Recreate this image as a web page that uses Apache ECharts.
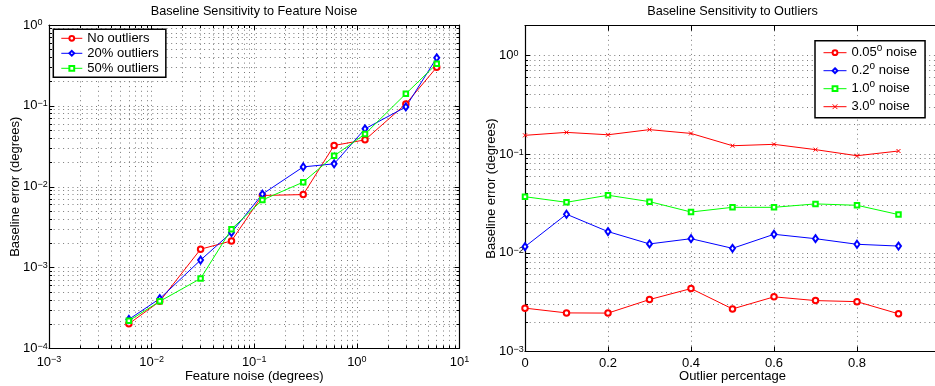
<!DOCTYPE html>
<html><head><meta charset="utf-8">
<script src="https://cdn.jsdelivr.net/npm/echarts@6/dist/echarts.min.js"></script>
<style>html,body{margin:0;padding:0;background:#fff}#c{width:935px;height:386px}</style>
</head><body><div id="c"></div>
<script>
// ---- Left plot data ----
const noiseX = [0.006, 0.012, 0.03, 0.06, 0.12, 0.3, 0.6, 1.2, 3, 6];
const noOutliers = [2.02e-4, 3.83e-4, 1.69e-3, 2.14e-3, 7.8e-3, 8.0e-3, 0.0324, 0.038, 0.1056, 0.30];
const outliers20 = [2.29e-4, 4.13e-4, 1.24e-3, 2.72e-3, 8.1e-3, 0.0176, 0.0192, 0.052, 0.097, 0.393];
const outliers50 = [2.2e-4, 3.83e-4, 7.33e-4, 2.99e-3, 6.86e-3, 0.0114, 0.0241, 0.0448, 0.141, 0.331];
const leftNames = ['No outliers', '20% outliers', '50% outliers'];

// ---- Right plot data ----
const outlierPct = [0, 0.1, 0.2, 0.3, 0.4, 0.5, 0.6, 0.7, 0.8, 0.9];
const noise005 = [2.75e-3, 2.46e-3, 2.45e-3, 3.36e-3, 4.34e-3, 2.7e-3, 3.58e-3, 3.28e-3, 3.2e-3, 2.41e-3];
const noise02 = [0.01155, 0.0246, 0.0164, 0.0123, 0.0139, 0.0111, 0.0154, 0.0139, 0.0122, 0.0117];
const noise10 = [0.037, 0.0325, 0.0383, 0.033, 0.0259, 0.0289, 0.0289, 0.0313, 0.0303, 0.0244];
const noise30 = [0.155, 0.166, 0.157, 0.177, 0.162, 0.1216, 0.1256, 0.111, 0.0963, 0.1075];
const rightNames = ['0.05° noise', '0.2° noise', '1.0° noise', '3.0° noise'];

const titles = ['Baseline Sensitivity to Feature Noise', 'Baseline Sensitivity to Outliers'];

const FONT = '"Liberation Sans", Arial, Helvetica, sans-serif';
const RED = '#ff0000', BLUE = '#0000ff', GREEN = '#00ff00';

function pow10Label(v) {
  const l = Math.log10(v), e = Math.round(l);
  if (Math.abs(l - e) > 1e-6) return '';
  return '{b|10}{sup|' + (e < 0 ? '\u2212' + (-e) : String(e)) + '}';
}
const supRich = {
  b: { fontSize: 13, fontFamily: FONT, color: '#000', verticalAlign: 'bottom', lineHeight: 13 },
  sup: { fontSize: 9, fontFamily: FONT, color: '#000', verticalAlign: 'top', lineHeight: 9, padding: [0, 0, 6, 0] }
};
const legendRich = {
  b: { fontSize: 13, fontFamily: FONT, color: '#000', lineHeight: 18 },
  sup: { fontSize: 10, fontFamily: FONT, color: '#000', verticalAlign: 'top', lineHeight: 10 }
};
const gridLine = { color: '#7a7a7a', width: 1, type: [1, 3.7] };
const axisLine = { show: true, onZero: false, lineStyle: { color: '#000', width: 1.2 } };
const tick = { show: true, inside: true, length: 5, lineStyle: { color: '#000', width: 1 } };
const nameStyle = { fontSize: 13, fontFamily: FONT, color: '#000' };
const minorOn = { show: true, splitNumber: 9, length: 3, lineStyle: { color: '#000', width: 1 } };
const minorLine = { show: true, lineStyle: gridLine };

function pairs(xs, ys) { return xs.map((x, i) => [x, ys[i]]); }

function mirror(base, position) {
  return Object.assign({}, base, {
    position, name: '', axisLabel: { show: false }, splitLine: { show: false }, minorSplitLine: { show: false }
  });
}

const xLeft = {
  gridIndex: 0, type: 'log', logBase: 10, min: 0.001, max: 10, interval: 1, position: 'bottom',
  axisLine, axisTick: tick, minorTick: minorOn, minorSplitLine: minorLine,
  axisLabel: { formatter: pow10Label, rich: supRich, margin: 7, color: '#000' },
  splitLine: { show: true, lineStyle: gridLine },
  name: 'Feature noise (degrees)', nameLocation: 'middle', nameGap: 21.5, nameMoveOverlap: false, nameTextStyle: nameStyle
};
const yLeft = {
  gridIndex: 0, type: 'log', logBase: 10, min: 1e-4, max: 1, interval: 1, position: 'left',
  axisLine, axisTick: tick, minorTick: minorOn, minorSplitLine: minorLine,
  axisLabel: { formatter: pow10Label, rich: supRich, margin: 26, align: 'left', color: '#000' },
  splitLine: { show: true, lineStyle: gridLine },
  name: 'Baseline error (degrees)', nameLocation: 'middle', nameGap: 27, nameMoveOverlap: false, nameTextStyle: nameStyle
};
const xRight = {
  gridIndex: 1, type: 'value', min: 0, max: 1, interval: 0.2, position: 'bottom',
  axisLine, axisTick: tick,
  axisLabel: { margin: 5, color: '#000', fontSize: 13, fontFamily: FONT },
  splitLine: { show: true, lineStyle: gridLine },
  name: 'Outlier percentage', nameLocation: 'middle', nameGap: 18.5, nameMoveOverlap: false, nameTextStyle: nameStyle
};
const yRight = {
  gridIndex: 1, type: 'log', logBase: 10, min: 1e-3, max: 2, interval: 1, position: 'left',
  axisLine, axisTick: tick, minorTick: minorOn, minorSplitLine: minorLine,
  axisLabel: { formatter: pow10Label, rich: supRich, margin: 26, align: 'left', color: '#000' },
  splitLine: { show: true, lineStyle: gridLine },
  name: 'Baseline error (degrees)', nameLocation: 'middle', nameGap: 27, nameMoveOverlap: false, nameTextStyle: nameStyle
};

function dataSeries(name, xs, ys, color, symbol, size, xi, yi) {
  return {
    type: 'line', name, data: pairs(xs, ys), xAxisIndex: xi, yAxisIndex: yi,
    symbol, symbolSize: size, showAllSymbol: true, z: 3,
    lineStyle: { color, width: 1 },
    itemStyle: { color, borderColor: color, borderWidth: 1 },
    emphasis: { disabled: true }
  };
}
const XMARK = 'path://M0,0L10,10M10,0L0,10';

const legendBase = {
  orient: 'vertical', itemGap: 0, borderColor: '#000', borderWidth: 1.5, backgroundColor: '#fff',
  borderRadius: 0, selectedMode: false,
  lineStyle: { width: 1 }, itemStyle: { borderWidth: 1 }
};

const option = {
  animation: false,
  backgroundColor: '#fff',
  graphic: [
    { type: 'text', x: 254, y: 11, style: { text: titles[0], font: '12.7px ' + FONT, fill: '#000', align: 'center', verticalAlign: 'middle' } },
    { type: 'text', x: 732.5, y: 11, style: { text: titles[1], font: '12.7px ' + FONT, fill: '#000', align: 'center', verticalAlign: 'middle' } }
  ],
  grid: [
    { left: 49, right: 475.5, top: 25, bottom: 37.5, outerBoundsMode: 'none', containLabel: false },
    { left: 525, width: 415, top: 25.7, bottom: 34.5, outerBoundsMode: 'none', containLabel: false }
  ],
  xAxis: [xLeft, mirror(xLeft, 'top'), xRight, mirror(xRight, 'top')],
  yAxis: [yLeft, mirror(yLeft, 'right'), yRight, mirror(yRight, 'right')],
  legend: [
    Object.assign({}, legendBase, {
      data: leftNames, left: 53.3, top: 29.3,
      itemWidth: 21, itemHeight: 6, padding: [1.5, 7, 1.5, 7.5],
      textStyle: { fontSize: 13, fontFamily: FONT, color: '#000', lineHeight: 15 }
    }),
    Object.assign({}, legendBase, {
      data: rightNames, left: 815, top: 40.7,
      itemWidth: 23, itemHeight: 6, padding: [3, 8, 2, 8],
      formatter: n => { const p = n.split('°'); return '{b|' + p[0] + '}{sup|o}{b|' + p[1] + '}'; },
      textStyle: { fontSize: 13, fontFamily: FONT, color: '#000', lineHeight: 18, rich: legendRich }
    })
  ],
  series: [
    dataSeries(leftNames[0], noiseX, noOutliers, RED, 'emptyCircle', 5.5, 0, 0),
    dataSeries(leftNames[1], noiseX, outliers20, BLUE, 'emptyDiamond', [5, 7], 0, 0),
    dataSeries(leftNames[2], noiseX, outliers50, GREEN, 'emptyRect', 4.5, 0, 0),
    dataSeries(rightNames[0], outlierPct, noise005, RED, 'emptyCircle', 5.5, 2, 2),
    dataSeries(rightNames[1], outlierPct, noise02, BLUE, 'emptyDiamond', [5, 7], 2, 2),
    dataSeries(rightNames[2], outlierPct, noise10, GREEN, 'emptyRect', 4.5, 2, 2),
    dataSeries(rightNames[3], outlierPct, noise30, RED, XMARK, 4, 2, 2)
  ]
};
const chart = echarts.init(document.getElementById('c'), null, { renderer: 'canvas' });
chart.setOption(option);
</script>
</body></html>
